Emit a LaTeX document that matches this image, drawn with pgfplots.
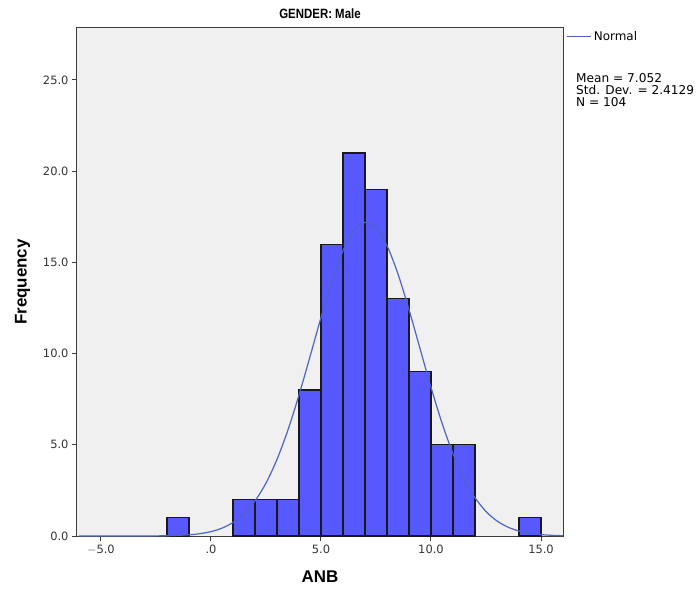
\documentclass[border=0pt]{standalone}
\usepackage{fontspec}
\setmainfont{DejaVu Sans}
\newfontfamily\titlefont{Liberation Sans}
\newfontfamily\titlecond[FakeStretch=0.85]{Liberation Sans}
\usepackage{pgfplots}
\pgfplotsset{compat=1.18}
\definecolor{barblue}{RGB}{88,88,255}
\definecolor{curveblue}{RGB}{76,100,196}
\definecolor{bggray}{RGB}{240,240,240}
\definecolor{axgray}{RGB}{60,60,60}
\begin{document}
\begin{tikzpicture}[x=1bp,y=1bp]
\begin{axis}[
  name=ax,
  scale only axis,
  width=486bp, height=508bp,
  xmin=-6.09, xmax=16.0,
  ymin=0, ymax=27.85,
  axis background/.style={fill=bggray},
  axis line style={axgray, line width=1bp},
  xtick={-5,0,5,10,15},
  xticklabels={$-$5.0,.0,5.0,10.0,15.0},
  ytick={0,5,10,15,20,25},
  yticklabels={0.0,5.0,10.0,15.0,20.0,25.0},
  tick align=outside,
  xtick pos=bottom, ytick pos=left,
  major tick length=5bp,
  tick style={axgray, line width=1bp},
  ticklabel style={font=\fontsize{11.5}{13}\selectfont, text=black!80},
  title={\textbf{GENDER: Male}},
  title style={font=\titlecond\fontsize{13.5}{15}\selectfont, yshift=0bp},
  xlabel={\textbf{ANB}},
  xlabel style={font=\titlefont\fontsize{17}{19}\selectfont, yshift=-10bp},
  ylabel={\textbf{Frequency}},
  ylabel style={font=\titlefont\fontsize{17}{19}\selectfont, yshift=6bp},
  legend style={at={(1.005,1)}, anchor=north west, draw=none, fill=none,
    font=\fontsize{12}{13}\selectfont, inner sep=1bp},
  legend cell align=left,
  legend image code/.code={\draw[curveblue, line width=1.2bp] (0bp,0bp) -- (24bp,0bp);},
  clip=true,
]
\addplot[ybar, bar width=1, bar shift=0, fill=barblue, draw=black!90, line width=1.2bp, forget plot]
coordinates {
(-1.5,1) (1.5,2) (2.5,2) (3.5,2) (4.5,8) (5.5,16) (6.5,21) (7.5,19)
(8.5,13) (9.5,9) (10.5,5) (11.5,5) (14.5,1)
};
\addplot[curveblue, line width=1.2bp, smooth] coordinates {
(-6,0.0000) (-5,0.0001) (-4,0.0005) (-3,0.0029) (-2,0.0151) (-1,0.0656)
(-0.5,0.128) (0,0.240) (0.5,0.431) (1,0.740) (1.5,1.218) (2,1.921) (2.5,2.901)
(3,4.198) (3.5,5.819) (4,7.726) (4.5,9.829) (5,11.977) (5.5,13.982)
(6,15.636) (6.5,16.751) (7,17.191) (7.5,16.901) (8,15.918) (8.5,14.362)
(9,12.412) (9.5,10.278) (10,8.152) (10.5,6.194) (11,4.509) (11.5,3.144)
(12,2.100) (12.5,1.344) (13,0.824) (13.5,0.484) (14,0.272) (14.5,0.145)
(15,0.0758) (15.5,0.037) (16,0.0178)
};
\addlegendentry{Normal}
\end{axis}
\node[anchor=north west, align=left, font=\fontsize{12.2}{12}\selectfont, inner sep=0pt]
  at ([xshift=13bp,yshift=-45bp]ax.north east)
  {Mean = 7.052\\Std. Dev. = 2.4129\\N = 104};
\path ([xshift=-77bp,yshift=-58bp]ax.south west) rectangle ([xshift=136bp,yshift=28bp]ax.north east);
\end{tikzpicture}
\end{document}
